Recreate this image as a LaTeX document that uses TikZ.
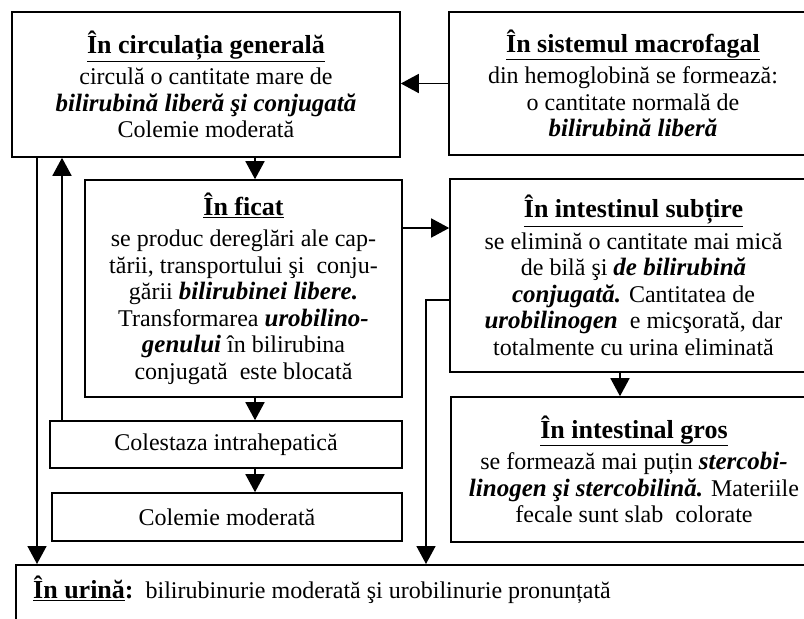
\documentclass[tikz,border=0pt]{standalone}
\usepackage{fontspec}
\setmainfont{Liberation Serif}
\usetikzlibrary{arrows.meta}

\newcommand{\ttl}[1]{{\fontsize{26}{28}\selectfont\underline{\textbf{#1}}}}
\newcommand{\bi}[1]{{\fontsize{25}{27}\selectfont\textbf{\textit{#1}}}}

\begin{document}
\begin{tikzpicture}[x=1pt,y=-1pt,
  box/.style={draw, line width=1.6pt, rectangle, align=center, inner sep=0pt,
              font=\fontsize{24}{26.5}\selectfont},
  link/.style={line width=1.6pt, -{Triangle[length=18pt,width=19pt]}}]
\clip (0,0) rectangle (804,619);
\useasboundingbox (0,0) rectangle (804,619);

% boxes
\node[box, minimum width=388pt, minimum height=145pt] (circ) at (206,84.5)
  {\ttl{În circulația generală}\\[5pt] circulă o cantitate mare de\\
   \bi{bilirubină liberă şi conjugată}\\ Colemie moderată};
\node[box, minimum width=368pt, minimum height=143pt] (macro) at (633,83.5)
  {\ttl{În sistemul macrofagal}\\[5pt] din hemoglobină se formează:\\
   o cantitate normală de\\ \bi{bilirubină liberă}};
\node[box, minimum width=317pt, minimum height=217pt] (ficat) at (243.5,288.5)
  {\ttl{În ficat}\\[5pt] se produc dereglări ale cap-\\
   tării, transportului şi\ \ conju-\\ gării \bi{bilirubinei libere.}\\
   Transformarea \bi{urobilino-}\\ \bi{genului} în bilirubina\\
   conjugată\ \ este blocată};
\node[box, minimum width=367pt, minimum height=193pt] (subt) at (633.5,275.5)
  {\ttl{În intestinul subțire}\\[5pt] se elimină o cantitate mai mică\\
   de bilă şi \bi{de bilirubină}\\ \bi{conjugată.} Cantitatea de\\
   \bi{urobilinogen}\ \ e micşorată, dar\\ totalmente cu urina eliminată};
\node[box, minimum width=366pt, minimum height=145pt] (gros) at (634,469.5)
  {\ttl{În intestinal gros}\\[5pt] se formează mai puțin \bi{stercobi-}\\
   \bi{linogen şi stercobilină.} Materiile\\ fecale sunt slab\ \ colorate};
\node[box, minimum width=352pt, minimum height=47pt] (coles) at (226,444.5)
  {Colestaza intrahepatică};
\node[box, minimum width=350pt, minimum height=48pt] (colem) at (227,517)
  {Colemie moderată};
\node[box, minimum width=820pt, minimum height=80pt, anchor=north west] (urina) at (15,564) {};
\node[anchor=base west, inner sep=0pt, font=\fontsize{24}{27}\selectfont] (urinatext) at (33,598)
  {\ttl{În urină}{\fontsize{26}{28}\selectfont\textbf{:}}\ \ bilirubinurie moderată şi urobilinurie pronunțată};

% guide columns for the connectors
\coordinate (midcol) at (255,0);
\coordinate (leftcol) at (37,0);
\coordinate (upcol) at (62,0);
\coordinate (rightcol) at (426,0);
\coordinate (bendA) at (0,300);

% connectors
\draw[link] (macro.west) -- (circ.east |- macro.west);
\draw[link] (circ.south -| midcol) -- (ficat.north -| midcol);
\draw[link] (ficat.east |- 0,228) -- (subt.west |- 0,228);
\draw[link] (ficat.south -| midcol) -- (coles.north -| midcol);
\draw[link] (coles.south -| midcol) -- (colem.north -| midcol);
\draw[link] (subt.south -| 620,0) -- (gros.north -| 620,0);
\draw[link] (circ.south -| leftcol) -- (urina.north -| leftcol);
\draw[link] (coles.north -| upcol) -- (circ.south -| upcol);
\draw[link] (subt.west |- bendA) -- (bendA -| rightcol) -- (urina.north -| rightcol);
\end{tikzpicture}
\end{document}
